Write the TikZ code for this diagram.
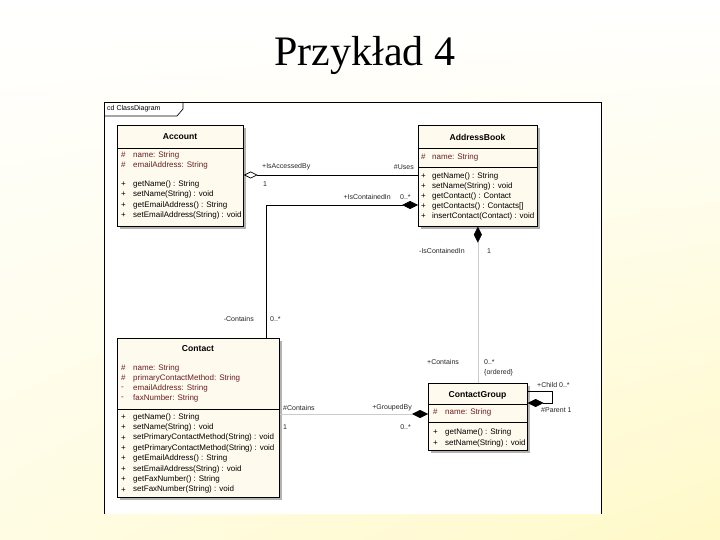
\documentclass[tikz,border=0pt]{standalone}
\usepackage{fontspec}
\setmainfont{Liberation Serif}
\setsansfont{Liberation Sans}
\usetikzlibrary{arrows.meta,shadows,shadings}
\definecolor{boxfill}{RGB}{255,250,238}
\definecolor{attrcol}{RGB}{105,30,30}
\definecolor{slideyellow}{RGB}{255,249,200}

\tikzset{
  classbox/.style={draw, fill=boxfill, anchor=north west, inner sep=0pt, line width=.7pt,
    drop shadow={shadow xshift=2.5pt, shadow yshift=-2.5pt, fill=black!30, opacity=1}},
  classname/.style={font=\sffamily\bfseries\fontsize{8.6}{10}\selectfont, inner sep=0pt},
  member/.style={font=\sffamily\fontsize{8}{9}\selectfont, inner sep=0pt, anchor=west},
  role/.style={font=\sffamily\fontsize{7}{8}\selectfont, inner sep=0pt, text=black!85},
  sepline/.style={line width=.7pt},
  link/.style={line width=.7pt},
  faint/.style={draw=black!20, line width=.4pt},
  aggr/.style={link, {Diamond[open, length=14pt, width=7pt, line width=.7pt, color=black]}-},
  comp/.style={link, {Diamond[length=16pt, width=8pt, color=black]}-},
}

\begin{document}
\begin{tikzpicture}[x=1pt, y=-1pt]
  \useasboundingbox (0,0) rectangle (720,540);
  \shade[upper left=white, upper right=white, lower left=slideyellow!50, lower right=slideyellow] (0,0) rectangle (720,540);

  \node[font=\fontsize{42}{48}\selectfont, anchor=base] (title) at (365,66) {Przykład 4};

  % diagram frame
  \fill[white] (104,102) rectangle (601,514);
  \draw[line width=.8pt] (104,514) -- (104,102) -- (601,102) -- (601,514);
  \draw[line width=.7pt] (104,116) -- (177,116) -- (183,109) -- (183,102);
  \node[role, anchor=west, text=black] (frame-name) at (107,109) {cd ClassDiagram};

  % Account
  \node[classbox, minimum width=126pt, minimum height=101pt] (account) at (117,125) {};
  \node[classname] (account-name) at (180,137) {Account};
  \draw[sepline] ([yshift=-23pt]account.north west) -- ([yshift=-23pt]account.north east);
  \foreach \v/\t [count=\i from 0] in {\#/{name: String}, \#/{emailAddress: String}}{
    \node[member, text=attrcol] (account-v\i) at (121,155+10*\i) {\v};
    \node[member, text=attrcol] (account-a\i) at (133,155+10*\i) {\t};
  }
  \foreach \v/\t [count=\i from 0] in {+/{getName() : String}, +/{setName(String) : void},
      +/{getEmailAddress() : String}, +/{setEmailAddress(String) : void}}{
    \node[member] (account-p\i) at (121,184+10.5*\i) {\v};
    \node[member] (account-o\i) at (133,184+10.5*\i) {\t};
  }

  % AddressBook
  \node[classbox, minimum width=119pt, minimum height=101pt] (addressbook) at (418,125) {};
  \node[classname] (addressbook-name) at (477.5,137) {AddressBook};
  \draw[sepline] ([yshift=-23pt]addressbook.north west) -- ([yshift=-23pt]addressbook.north east);
  \draw[sepline] ([yshift=-42pt]addressbook.north west) -- ([yshift=-42pt]addressbook.north east);
  \node[member, text=attrcol] (addressbook-v0) at (421,157) {\#};
  \node[member, text=attrcol] (addressbook-a0) at (432,157) {name: String};
  \foreach \v/\t [count=\i from 0] in {+/{getName() : String}, +/{setName(String) : void},
      +/{getContact() : Contact}, +/{getContacts() : Contacts[]}, +/{insertContact(Contact) : void}}{
    \node[member] (addressbook-p\i) at (421,176+10*\i) {\v};
    \node[member] (addressbook-o\i) at (432,176+10*\i) {\t};
  }

  % Contact
  \node[classbox, minimum width=162pt, minimum height=159pt] (contact) at (117,338) {};
  \node[classname] (contact-name) at (198,349) {Contact};
  \draw[sepline] ([yshift=-71pt]contact.north west) -- ([yshift=-71pt]contact.north east);
  \foreach \v/\t [count=\i from 0] in {\#/{name: String}, \#/{primaryContactMethod: String},
      -/{emailAddress: String}, -/{faxNumber: String}}{
    \node[member, text=attrcol] (contact-v\i) at (121,368+10*\i) {\v};
    \node[member, text=attrcol] (contact-a\i) at (133,368+10*\i) {\t};
  }
  \foreach \v/\t [count=\i from 0] in {+/{getName() : String}, +/{setName(String) : void},
      +/{setPrimaryContactMethod(String) : void}, +/{getPrimaryContactMethod(String) : void},
      +/{getEmailAddress() : String}, +/{setEmailAddress(String) : void},
      +/{getFaxNumber() : String}, +/{setFaxNumber(String) : void}}{
    \node[member] (contact-p\i) at (121,417+10.4*\i) {\v};
    \node[member] (contact-o\i) at (133,417+10.4*\i) {\t};
  }

  % ContactGroup
  \node[classbox, minimum width=99pt, minimum height=67pt] (contactgroup) at (428,383) {};
  \node[classname] (contactgroup-name) at (477.5,395) {ContactGroup};
  \draw[sepline] ([yshift=-21pt]contactgroup.north west) -- ([yshift=-21pt]contactgroup.north east);
  \draw[sepline] ([yshift=-39pt]contactgroup.north west) -- ([yshift=-39pt]contactgroup.north east);
  \node[member, text=attrcol] (contactgroup-v0) at (433,412) {\#};
  \node[member, text=attrcol] (contactgroup-a0) at (445,412) {name: String};
  \foreach \v/\t [count=\i from 0] in {+/{getName() : String}, +/{setName(String) : void}}{
    \node[member] (contactgroup-p\i) at (433,432+11*\i) {\v};
    \node[member] (contactgroup-o\i) at (445,432+11*\i) {\t};
  }

  % associations
  \draw[aggr] ([yshift=-50pt]account.north east) -- ([yshift=-50pt]addressbook.north west);
  \draw[comp] ([yshift=-80pt]addressbook.north west) -| ([xshift=149pt]contact.north west);
  \draw[comp, faint] (addressbook.south) -- (contactgroup.north);
  \draw[comp, faint] ([yshift=-31pt]contactgroup.north west) -- ([yshift=-76pt]contact.north east);
  \draw[comp] ([yshift=-20pt]contactgroup.north east) -- ++(25,0) |- ([yshift=-8pt]contactgroup.north east);

  % role names and multiplicities
  \node[role, anchor=west] (accessedby) at (262,167) {+IsAccessedBy};
  \node[role, anchor=west] (accessedby-m) at (263,184) {1};
  \node[role, anchor=east] (uses) at (414,167) {\#Uses};
  \node[role, anchor=east] (containedin) at (391,197) {+IsContainedIn};
  \node[role, anchor=west] (containedin-m) at (400,197) {0..*};
  \node[role, anchor=east] (contains) at (254,319) {-Contains};
  \node[role, anchor=west] (contains-m) at (270,319) {0..*};
  \node[role, anchor=west] (groupin) at (419,251) {-IsContainedIn};
  \node[role, anchor=west] (groupin-m) at (487,251) {1};
  \node[role, anchor=west] (groupcontains) at (427,362) {+Contains};
  \node[role, anchor=west] (groupcontains-m) at (484,362) {0..*};
  \node[role, anchor=west] (ordered) at (484,373) {\{ordered\}};
  \node[role, anchor=west] (contactcontains) at (283,408) {\#Contains};
  \node[role, anchor=west] (contactcontains-m) at (283,427) {1};
  \node[role, anchor=east] (groupedby) at (412,408) {+GroupedBy};
  \node[role, anchor=east] (groupedby-m) at (411,427) {0..*};
  \node[role, anchor=west] (child) at (537,385) {+Child 0..*};
  \node[role, anchor=west] (parent) at (541,410) {\#Parent 1};
\end{tikzpicture}
\end{document}
